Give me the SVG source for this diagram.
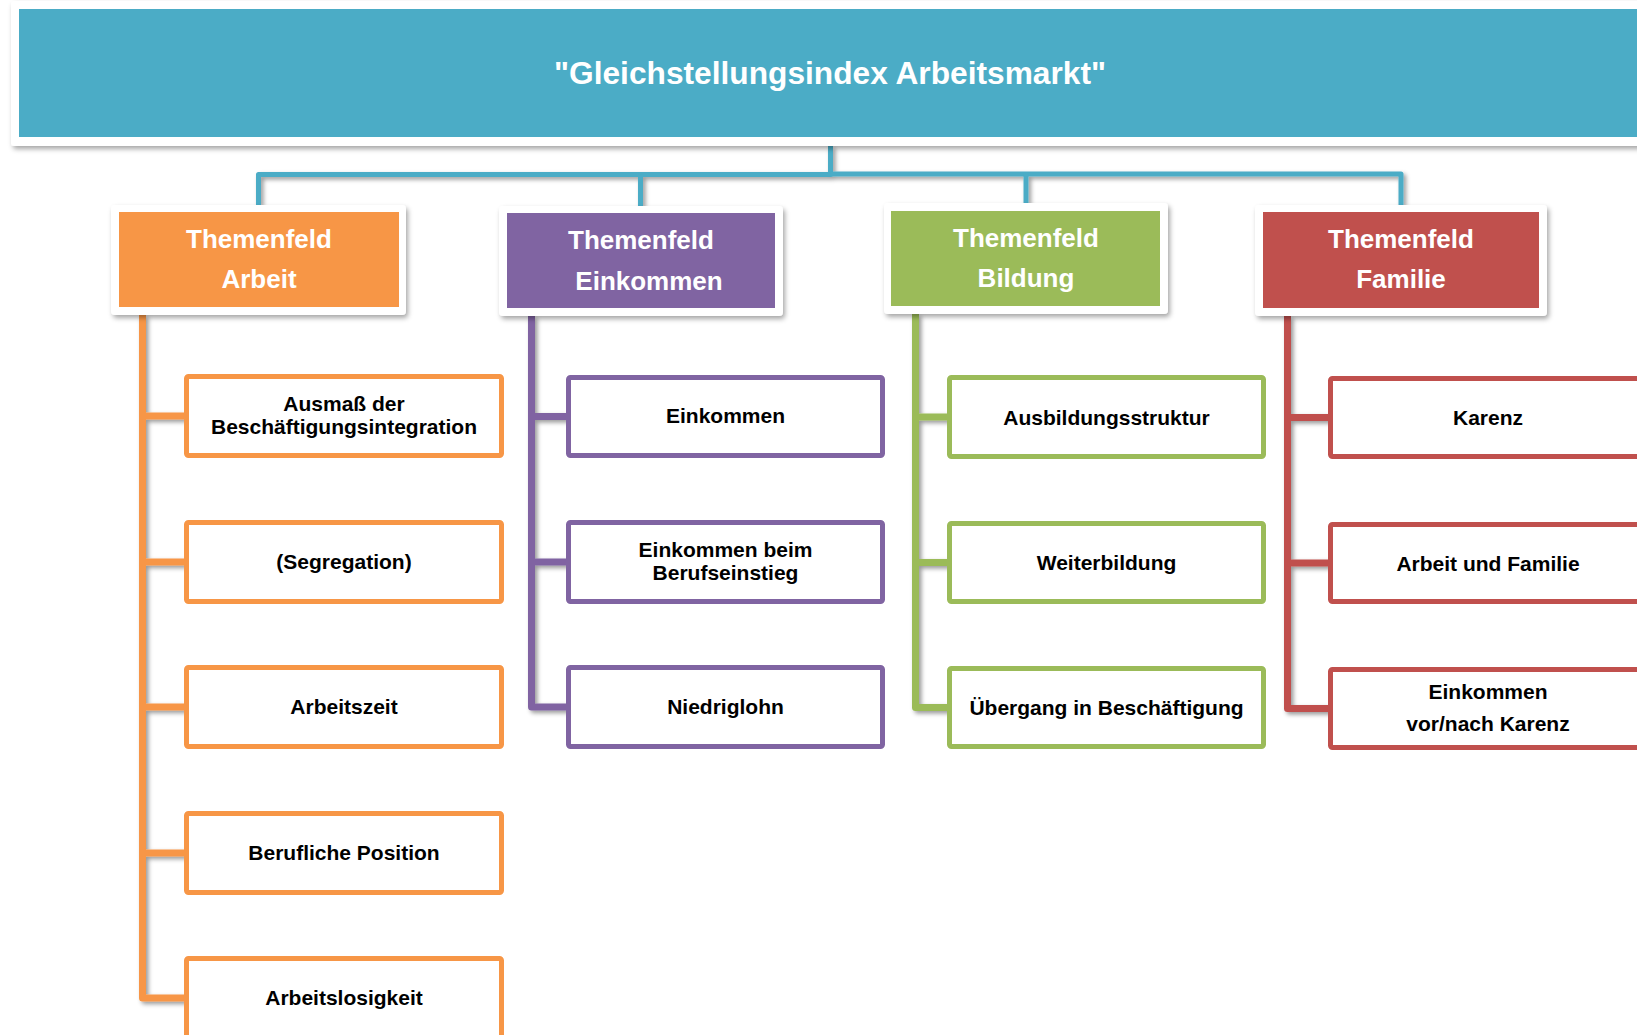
<svg xmlns="http://www.w3.org/2000/svg" width="1637" height="1035" viewBox="0 0 1637 1035">
<defs>
<filter id="sh" x="-10%" y="-10%" width="130%" height="140%">
<feDropShadow dx="2" dy="3" stdDeviation="2.5" flood-color="#000" flood-opacity="0.35"/>
</filter>
<filter id="lsh" x="-20%" y="-5%" width="140%" height="110%">
<feDropShadow dx="2.5" dy="2.5" stdDeviation="2" flood-color="#000" flood-opacity="0.4"/>
</filter>
<style>
.frame{fill:#fff;filter:url(#sh)}
.hd{font-family:"Liberation Sans",Arial,sans-serif;font-weight:bold;fill:#fff;text-anchor:middle}
.t1{font-size:31.5px}
.t2{font-size:26px}
.tx{font-family:"Liberation Sans",Arial,sans-serif;font-weight:bold;font-size:21px;fill:#000;text-anchor:middle}
.box{fill:#fff;stroke-width:5}
.c{fill:none;stroke-linejoin:round}
.cb{stroke:#4BACC6;stroke-width:5}
.co{stroke:#F79646;stroke-width:7}
.cp{stroke:#8064A2;stroke-width:7}
.cg{stroke:#9BBB59;stroke-width:7}
.cr{stroke:#C0504D;stroke-width:7}
.o{stroke:#F79646}.p{stroke:#8064A2}.g{stroke:#9BBB59}.r{stroke:#C0504D}
</style>
</defs>
<rect width="1637" height="1035" fill="#fff"/>

<g id="connectors">
<g filter="url(#lsh)">
<path class="c cb" d="M258.5,205 V174.5 H830.5 V146"/>
<path class="c cb" d="M830.5,174 H1401 V205"/>
<path class="c cb" d="M640.5,174.5 V206"/>
<path class="c cb" d="M1026,174 V204"/>
</g>
<g filter="url(#lsh)">
<path class="c co" d="M142.5,315 V998 H186"/>
<path class="c co" d="M142.5,416 H186 M142.5,562 H186 M142.5,707 H186 M142.5,853 H186"/>
<path class="c cp" d="M531.5,316 V707 H568"/>
<path class="c cp" d="M531.5,416.5 H568 M531.5,562 H568"/>
<path class="c cg" d="M915.5,314 V707.5 H949"/>
<path class="c cg" d="M915.5,417 H949 M915.5,562.5 H949"/>
<path class="c cr" d="M1287.5,316 V708.5 H1330"/>
<path class="c cr" d="M1287.5,417.5 H1330 M1287.5,563 H1330"/>
</g>
</g>

<g id="root">
<rect class="frame" x="11" y="1" width="1640" height="145" rx="3"/>
<rect x="19" y="9" width="1630" height="128" fill="#4BACC6"/>
<text class="hd t1" x="830" y="84" textLength="552" lengthAdjust="spacingAndGlyphs">"Gleichstellungsindex Arbeitsmarkt"</text>
</g>

<g id="themenfeld-arbeit">
<rect class="frame" x="111" y="205" width="295" height="110" rx="4"/>
<rect x="119" y="212" width="280" height="95" fill="#F79646"/>
<text class="hd t2" x="259" y="248">Themenfeld</text>
<text class="hd t2" x="259" y="288">Arbeit</text>
</g>
<g id="themenfeld-einkommen">
<rect class="frame" x="499" y="206" width="284" height="110" rx="4"/>
<rect x="507" y="213" width="268" height="95" fill="#8064A2"/>
<text class="hd t2" x="641" y="249">Themenfeld</text>
<text class="hd t2" x="649" y="290">Einkommen</text>
</g>
<g id="themenfeld-bildung">
<rect class="frame" x="884" y="203" width="284" height="111" rx="4"/>
<rect x="891" y="211" width="269" height="95" fill="#9BBB59"/>
<text class="hd t2" x="1026" y="247">Themenfeld</text>
<text class="hd t2" x="1026" y="287">Bildung</text>
</g>
<g id="themenfeld-familie">
<rect class="frame" x="1255" y="205" width="292" height="111" rx="4"/>
<rect x="1263" y="212" width="276" height="96" fill="#C0504D"/>
<text class="hd t2" x="1401" y="248">Themenfeld</text>
<text class="hd t2" x="1401" y="288">Familie</text>
</g>

<g id="a1"><rect class="box o" x="186.5" y="376.5" width="315" height="79" rx="2"/>
<text class="tx" x="344" y="411">Ausmaß der</text><text class="tx" x="344" y="434">Beschäftigungsintegration</text></g>
<g id="a2"><rect class="box o" x="186.5" y="522.5" width="315" height="79" rx="2"/>
<text class="tx" x="344" y="569">(Segregation)</text></g>
<g id="a3"><rect class="box o" x="186.5" y="667.5" width="315" height="79" rx="2"/>
<text class="tx" x="344" y="714">Arbeitszeit</text></g>
<g id="a4"><rect class="box o" x="186.5" y="813.5" width="315" height="79" rx="2"/>
<text class="tx" x="344" y="860">Berufliche Position</text></g>
<g id="a5"><rect class="box o" x="186.5" y="958.5" width="315" height="79" rx="2"/>
<text class="tx" x="344" y="1005">Arbeitslosigkeit</text></g>

<g id="e1"><rect class="box p" x="568.5" y="377.5" width="314" height="78" rx="2"/>
<text class="tx" x="725.5" y="423">Einkommen</text></g>
<g id="e2"><rect class="box p" x="568.5" y="522.5" width="314" height="79" rx="2"/>
<text class="tx" x="725.5" y="557">Einkommen beim</text><text class="tx" x="725.5" y="580">Berufseinstieg</text></g>
<g id="e3"><rect class="box p" x="568.5" y="667.5" width="314" height="79" rx="2"/>
<text class="tx" x="725.5" y="714">Niedriglohn</text></g>

<g id="b1"><rect class="box g" x="949.5" y="377.5" width="314" height="79" rx="2"/>
<text class="tx" x="1106.5" y="425">Ausbildungsstruktur</text></g>
<g id="b2"><rect class="box g" x="949.5" y="523.5" width="314" height="78" rx="2"/>
<text class="tx" x="1106.5" y="570">Weiterbildung</text></g>
<g id="b3"><rect class="box g" x="949.5" y="668.5" width="314" height="78" rx="2"/>
<text class="tx" x="1106.5" y="715">Übergang in Beschäftigung</text></g>

<g id="f1"><rect class="box r" x="1330.5" y="378.5" width="315" height="78" rx="2"/>
<text class="tx" x="1488" y="425">Karenz</text></g>
<g id="f2"><rect class="box r" x="1330.5" y="524.5" width="315" height="77" rx="2"/>
<text class="tx" x="1488" y="571">Arbeit und Familie</text></g>
<g id="f3"><rect class="box r" x="1330.5" y="669.5" width="315" height="78" rx="2"/>
<text class="tx" x="1488" y="699">Einkommen</text><text class="tx" x="1488" y="731">vor/nach Karenz</text></g>
</svg>
